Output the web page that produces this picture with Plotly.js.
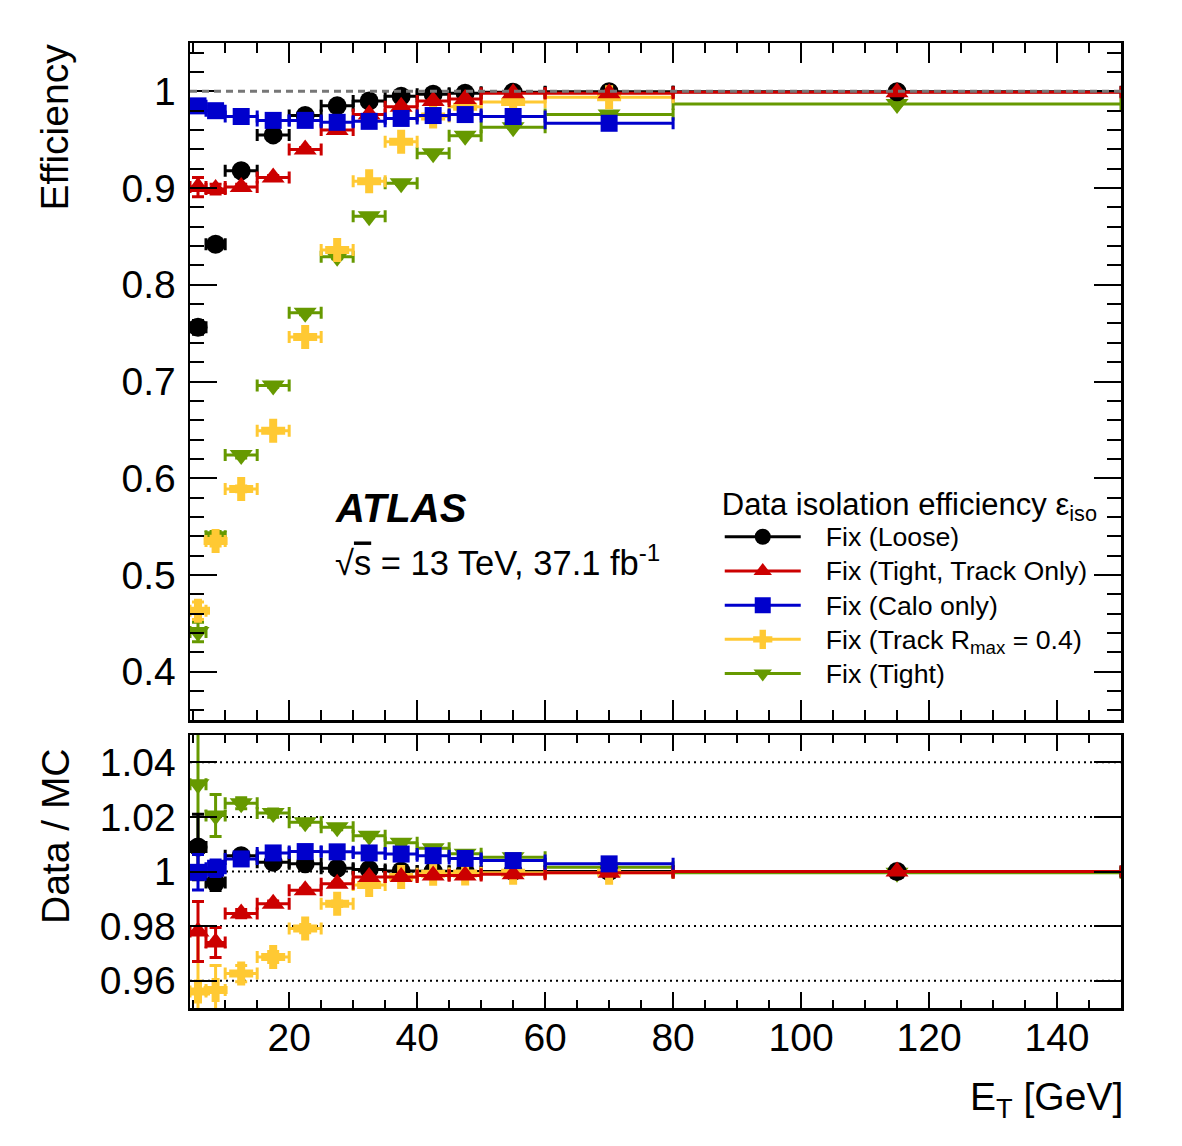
<!DOCTYPE html>
<html>
<head>
<meta charset="utf-8">
<script src="https://cdn.plot.ly/plotly-3.0.1.min.js"></script>
<style>
  html, body { margin: 0; padding: 0; background: #ffffff; }
  #plot { width: 1182px; height: 1146px; }
</style>
</head>
<body>
<div id="plot"></div>
<script>
// E_T bin edges [GeV]
const binLow  = [4.5, 7, 10, 15, 20, 25, 30, 35, 40, 45, 50, 60, 80];
const binHigh = [7, 10, 15, 20, 25, 30, 35, 40, 45, 50, 60, 80, 150];

// Data isolation efficiency for each working point
const effLoose      = [0.756, 0.842, 0.918, 0.955, 0.975, 0.985, 0.990, 0.995, 0.997, 0.998, 0.999, 0.9995, 0.9995];
const effLooseErr   = [0.007, 0.004, 0.002, 0.002, 0.001, 0.001, 0.001, 0.001, 0.001, 0.001, 0.001, 0.001, 0.001];
const effTightTrk   = [0.901, 0.899, 0.901, 0.911, 0.940, 0.960, 0.976, 0.984, 0.990, 0.992, 0.998, 0.998, 0.999];
const effTightTrkErr= [0.010, 0.005, 0.003, 0.002, 0.002, 0.001, 0.001, 0.001, 0.001, 0.001, 0.001, 0.001, 0.001];
const effCalo       = [0.985, 0.980, 0.974, 0.970, 0.970, 0.968, 0.969, 0.972, 0.975, 0.976, 0.974, 0.967];
const effCaloErr    = [0.004, 0.003, 0.002, 0.002, 0.001, 0.001, 0.001, 0.001, 0.001, 0.001, 0.001, 0.001];
const effTrackR     = [0.463, 0.535, 0.589, 0.649, 0.746, 0.836, 0.907, 0.948, 0.974, 0.984, 0.989, 0.994];
const effTrackRErr  = [0.009, 0.005, 0.003, 0.002, 0.002, 0.002, 0.001, 0.001, 0.001, 0.001, 0.001, 0.001];
const effTight      = [0.441, 0.540, 0.624, 0.696, 0.771, 0.829, 0.871, 0.905, 0.936, 0.954, 0.963, 0.976, 0.987];
const effTightErr   = [0.010, 0.005, 0.003, 0.002, 0.002, 0.002, 0.001, 0.001, 0.001, 0.001, 0.001, 0.001, 0.001];

// Data / MC ratio for each working point
const ratioLoose       = [1.009, 0.996, 1.0058, 1.0034, 1.0028, 1.0012, 1.0007, 1.0002, 1.0001, 1.0, 1.0, 1.0, 1.0];
const ratioLooseErr    = [0.012, 0.003, 0.001, 0.0008, 0.0006, 0.0005, 0.0004, 0.0004, 0.0004, 0.0004, 0.0003, 0.0003, 0.0003];
const ratioTightTrk    = [0.978, 0.974, 0.9846, 0.9882, 0.9931, 0.9955, 0.998, 0.998, 0.9985, 0.9985, 0.999, 0.9995, 1.0];
const ratioTightTrkErr = [0.011, 0.0055, 0.0015, 0.001, 0.0008, 0.0006, 0.0005, 0.0005, 0.0004, 0.0004, 0.0003, 0.0003, 0.0003];
const ratioCalo        = [0.9997, 1.0012, 1.0046, 1.0068, 1.0073, 1.0072, 1.0068, 1.0064, 1.0058, 1.0048, 1.004, 1.0028];
const ratioCaloErr     = [0.0065, 0.003, 0.0012, 0.001, 0.0008, 0.0007, 0.0006, 0.0006, 0.0005, 0.0005, 0.0004, 0.0004];
const ratioTrackR      = [0.956, 0.9566, 0.9626, 0.9687, 0.9791, 0.9882, 0.9951, 0.998, 0.9992, 0.9993, 0.9995, 0.9995];
const ratioTrackRErr   = [0.022, 0.009, 0.003, 0.002, 0.0015, 0.001, 0.0008, 0.0006, 0.0005, 0.0004, 0.0004, 0.0003];
const ratioTight       = [1.032, 1.0205, 1.025, 1.0214, 1.018, 1.0162, 1.0131, 1.0105, 1.0085, 1.0065, 1.0052, 1.0016, 0.9995];
const ratioTightErr    = [0.022, 0.0077, 0.002, 0.0015, 0.001, 0.0009, 0.0008, 0.0007, 0.0006, 0.0005, 0.0005, 0.0004, 0.0004];

const FONT = 'Liberation Sans, Arial, Helvetica, sans-serif';

function centers(n) { return binLow.slice(0, n).map((lo, i) => 0.5 * (lo + binHigh[i])); }
function halfWidths(n) { return binLow.slice(0, n).map((lo, i) => 0.5 * (binHigh[i] - lo)); }

// legend entry text: a little gap after the symbol, slightly larger glyphs than the row pitch
function entry(label) {
  return '&nbsp;&nbsp;&nbsp;<span style="font-size:26.7px">' + label + '</span>';
}

function series(name, color, symbol, size, eff, effErr, ratio, ratioErr, rank) {
  const n = eff.length;
  const x = centers(n), hw = halfWidths(n);
  const marker = { color: color, symbol: symbol, size: size, line: { width: 0 } };
  const ex = { type: 'data', array: hw, color: color, thickness: 3, width: 6 };
  return [
    { type: 'scatter', mode: 'markers', x: x, y: eff, xaxis: 'x', yaxis: 'y',
      marker: marker, showlegend: false, hoverinfo: 'skip',
      error_x: ex, error_y: { type: 'data', array: effErr, color: color, thickness: 3, width: 6 } },
    { type: 'scatter', mode: 'markers', x: x, y: ratio, xaxis: 'x2', yaxis: 'y2',
      marker: marker, showlegend: false, hoverinfo: 'skip',
      error_x: ex, error_y: { type: 'data', array: ratioErr, color: color, thickness: 3, width: 6 } },
    { type: 'scatter', mode: 'lines+markers', x: [null], y: [null], xaxis: 'x', yaxis: 'y',
      name: entry(name), legendrank: rank, line: { color: color, width: 3 },
      marker: { color: color, symbol: symbol, size: Math.min(size, 16) } }
  ];
}

// drawing order: later series sit on top
const traces = [].concat(
  series('Fix (Tight)', '#669900', 'triangle-down', 20, effTight, effTightErr, ratioTight, ratioTightErr, 5),
  series('Fix (Loose)', '#000000', 'circle', 19, effLoose, effLooseErr, ratioLoose, ratioLooseErr, 1),
  series('Fix (Track R<sub>max</sub> = 0.4)', '#ffc933', 'cross', 20, effTrackR, effTrackRErr, ratioTrackR, ratioTrackRErr, 4),
  series('Fix (Tight, Track Only)', '#cc0000', 'triangle-up', 20, effTightTrk, effTightTrkErr, ratioTightTrk, ratioTightTrkErr, 2),
  series('Fix (Calo only)', '#0000cc', 'square', 17, effCalo, effCaloErr, ratioCalo, ratioCaloErr, 3)
);

const tickFont = { family: FONT, size: 39, color: '#000' };
const axisCommon = {
  showline: true, linewidth: 2.5, linecolor: '#000', mirror: 'allticks',
  ticks: 'inside', tickwidth: 2, tickcolor: '#000',
  showgrid: false, zeroline: false, tickfont: tickFont
};

const layout = {
  width: 1182, height: 1146,
  margin: { l: 190, r: 61, t: 43, b: 138 },
  paper_bgcolor: '#ffffff', plot_bgcolor: '#ffffff',
  font: { family: FONT, color: '#000' },
  xaxis: Object.assign({}, axisCommon, {
    domain: [0, 1], range: [4.5, 150], anchor: 'y',
    tick0: 0, dtick: 20, ticklen: 20, showticklabels: false,
    minor: { ticks: 'inside', tick0: 0, dtick: 5, ticklen: 10, tickwidth: 2, tickcolor: '#000', showgrid: false }
  }),
  xaxis2: Object.assign({}, axisCommon, {
    domain: [0, 1], range: [4.5, 150], anchor: 'y2',
    tick0: 0, dtick: 20, ticklen: 16, ticklabelstandoff: -6,
    minor: { ticks: 'inside', tick0: 0, dtick: 5, ticklen: 8, tickwidth: 2, tickcolor: '#000', showgrid: false }
  }),
  yaxis: Object.assign({}, axisCommon, {
    domain: [0.2984, 1], range: [0.35, 1.05], anchor: 'x',
    tick0: 0, dtick: 0.1, ticklen: 27, ticklabelstandoff: 4,
    minor: { ticks: 'inside', tick0: 0, dtick: 0.02, ticklen: 14, tickwidth: 2, tickcolor: '#000', showgrid: false }
  }),
  yaxis2: Object.assign({}, axisCommon, {
    domain: [0, 0.2829], range: [0.95, 1.05], anchor: 'x2',
    tick0: 0, dtick: 0.02, ticklen: 27, ticklabelstandoff: 4
  }),
  legend: {
    x: 0.569, y: 0.553, xanchor: 'left', yanchor: 'top',
    bgcolor: 'rgba(0,0,0,0)', borderwidth: 0,
    font: { family: FONT, size: 24, color: '#000' },
    itemwidth: 76, tracegroupgap: 0,
    title: { text: 'Data isolation efficiency ε<sub>iso</sub>', font: { family: FONT, size: 31, color: '#000' } }
  },
  shapes: [
    // unity line on the efficiency panel
    { type: 'line', xref: 'x', yref: 'y', x0: 4.5, x1: 150, y0: 1, y1: 1,
      line: { color: '#777777', width: 3, dash: '7px,5px' }, layer: 'above' }
  ].concat([0.96, 0.98, 1.0, 1.02, 1.04].map(v => (
    { type: 'line', xref: 'x2', yref: 'y2', x0: 4.5, x1: 150, y0: v, y1: v,
      line: { color: '#000000', width: 2, dash: '2px,4px' }, layer: 'below' }
  ))),
  annotations: [
    { xref: 'paper', yref: 'paper', x: 0.1536, y: 0.518, xanchor: 'left', yanchor: 'middle',
      text: '<b><i>ATLAS</i></b>', showarrow: false, font: { family: FONT, size: 40, color: '#000' } },
    { xref: 'paper', yref: 'paper', x: 0.1536, y: 0.4642, xanchor: 'left', yanchor: 'middle',
      text: '√<span style="text-decoration:overline">s</span> = 13 TeV, 37.1 fb<sup>-1</sup>', showarrow: false,
      font: { family: FONT, size: 34.5, color: '#000' } },
    { xref: 'paper', yref: 'paper', x: -0.145, y: 1.001, xanchor: 'center', yanchor: 'top', textangle: -90,
      text: 'Efficiency', showarrow: false, font: { family: FONT, size: 39, color: '#000' } },
    { xref: 'paper', yref: 'paper', x: -0.145, y: 0.2715, xanchor: 'center', yanchor: 'top', textangle: -90,
      text: 'Data / MC', showarrow: false, font: { family: FONT, size: 39, color: '#000' } },
    { xref: 'paper', yref: 'paper', x: 1.004, y: -0.0953, xanchor: 'right', yanchor: 'middle',
      text: 'E<sub>T</sub> [GeV]', showarrow: false, font: { family: FONT, size: 39, color: '#000' } }
  ]
};

Plotly.newPlot('plot', traces, layout, { staticPlot: true, displayModeBar: false });
</script>
</body>
</html>
